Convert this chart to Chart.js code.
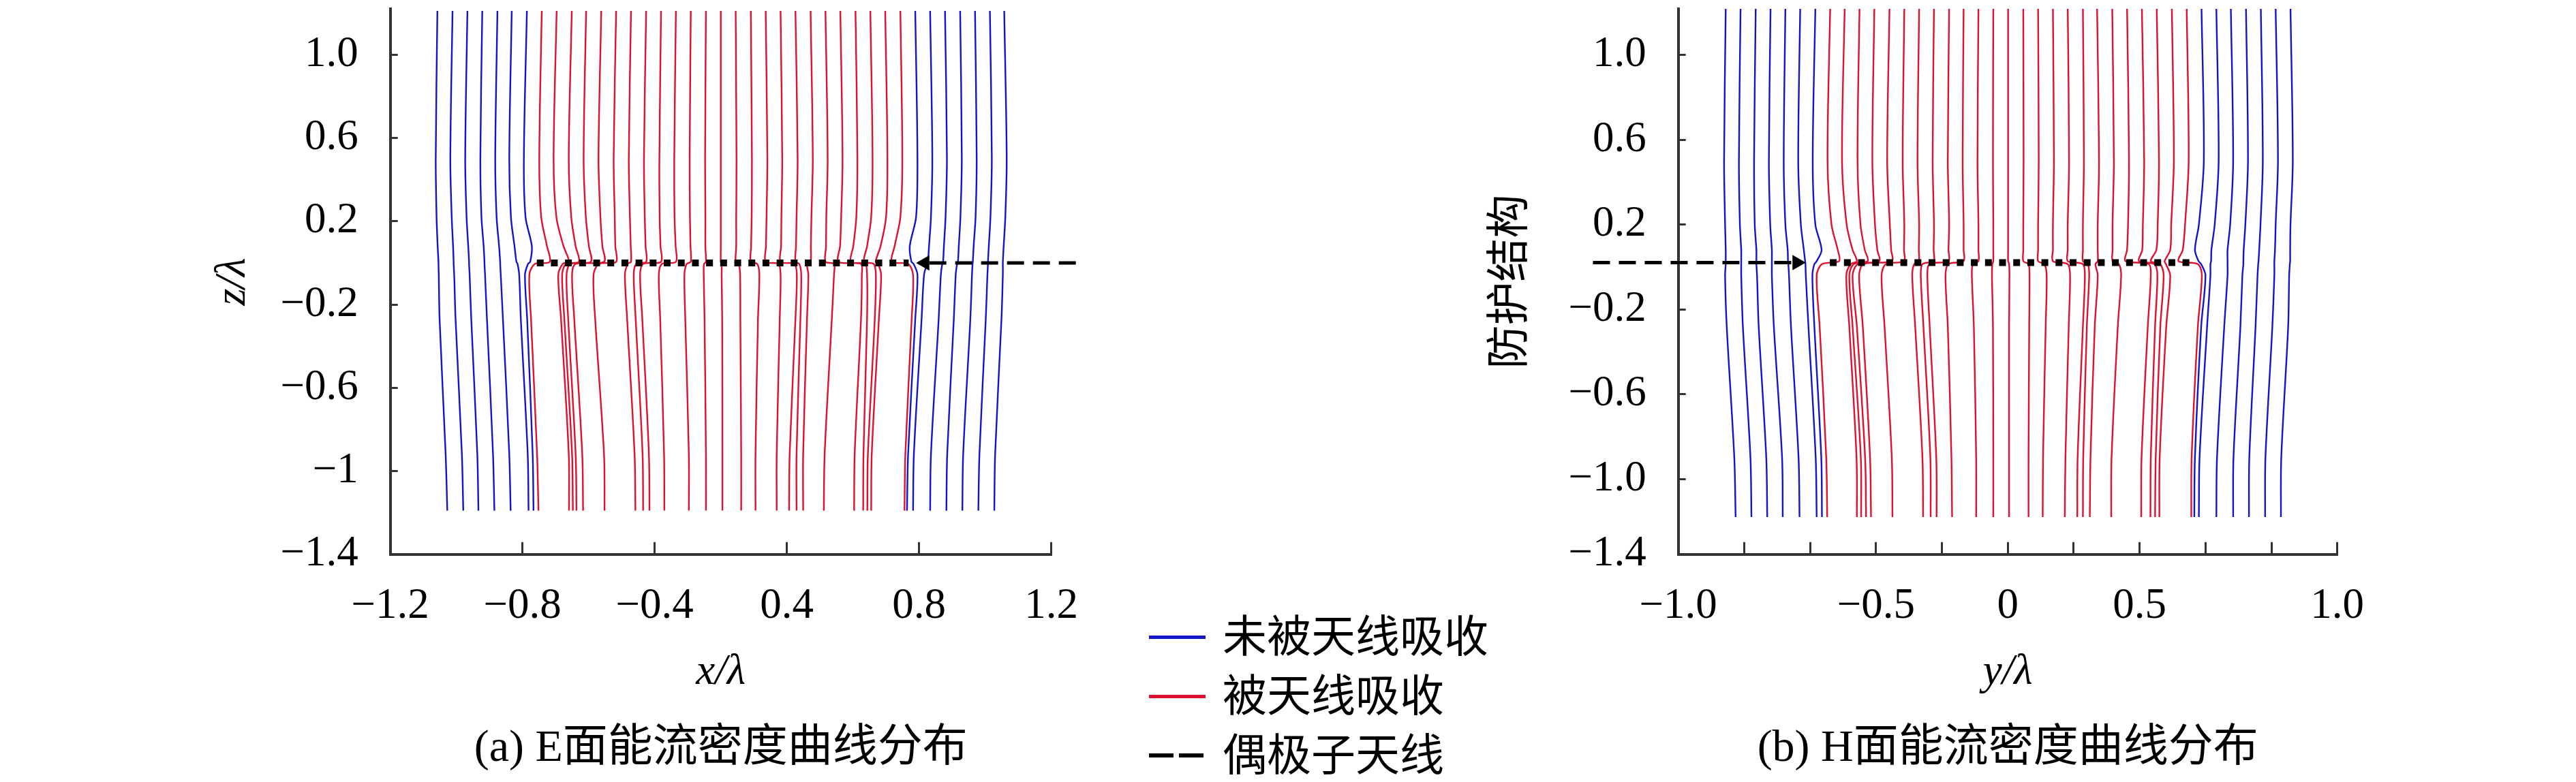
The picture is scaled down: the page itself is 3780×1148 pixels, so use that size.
<!DOCTYPE html>
<html>
<head>
<meta charset="utf-8">
<script src="https://cdn.jsdelivr.net/npm/chart.js@4.4.1/dist/chart.umd.min.js"></script>
<style>
  body { margin: 0; background: #fff; }
  #wrap { position: relative; width: 3780px; height: 1148px; overflow: hidden; }
  canvas { position: absolute; top: 0; }
  .row { position: absolute; left: 1686px; height: 80px; display: flex; align-items: center;
         font-family: "Noto Sans CJK SC", sans-serif; font-size: 65px; line-height: 1; color: #000; }
  .swatch { width: 83px; height: 5px; margin-right: 25px; position: relative; top: 6px; }
</style>
</head>
<body>
<div id="wrap">
  <canvas id="chartE" width="1890" height="1148" style="left:0"></canvas>
  <canvas id="chartH" width="1890" height="1148" style="left:1890px"></canvas>
  <div class="row" style="top:889px"><div class="swatch" style="background:#1414c8"></div>未被天线吸收</div>
  <div class="row" style="top:976px"><div class="swatch" style="background:#e0102f"></div>被天线吸收</div>
  <div class="row" style="top:1063px">
    <svg width="83" height="8" style="margin-right:25px;position:relative;top:6px"><line x1="0" y1="4" x2="83" y2="4" stroke="#000" stroke-width="6" stroke-dasharray="36 8"/></svg>偶极子天线
  </div>
</div>
<script>
const BLUE = "#1414c8";
const RED = "#e0102f";
const SERIF = "'Liberation Serif', 'Noto Sans CJK SC', serif";

// (a) E plane: z levels at which every streamline x/λ was read
const eZ = [1.21, 0.5, 0.22, 0.08, 0.005, -0.005, -0.056, -0.27, -0.92, -1.19];
const eLines = [
  [-1.029, -1.035, -1.032, -1.028, -1.025, -1.025, -1.024, -1.021, -0.999, -0.993],
  [-0.974, -0.982, -0.977, -0.972, -0.970, -0.970, -0.968, -0.963, -0.940, -0.935],
  [-0.920, -0.928, -0.923, -0.917, -0.914, -0.914, -0.912, -0.906, -0.884, -0.880],
  [-0.866, -0.873, -0.869, -0.861, -0.858, -0.858, -0.856, -0.849, -0.827, -0.822],
  [-0.811, -0.819, -0.814, -0.805, -0.801, -0.801, -0.799, -0.791, -0.768, -0.763],
  [-0.759, -0.768, -0.762, -0.749, -0.742, -0.738, -0.732, -0.726, -0.701, -0.698],
  [-0.704, -0.715, -0.709, -0.686, -0.692, -0.700, -0.711, -0.703, -0.683, -0.680],
  [-0.650, -0.659, -0.652, -0.631, -0.621, -0.675, -0.695, -0.689, -0.667, -0.662],
  [-0.596, -0.607, -0.597, -0.571, -0.551, -0.574, -0.590, -0.580, -0.552, -0.551],
  [-0.541, -0.552, -0.543, -0.527, -0.515, -0.562, -0.576, -0.568, -0.540, -0.537],
  [-0.489, -0.498, -0.490, -0.479, -0.472, -0.546, -0.560, -0.554, -0.527, -0.524],
  [-0.434, -0.444, -0.437, -0.430, -0.424, -0.527, -0.540, -0.532, -0.503, -0.500],
  [-0.380, -0.389, -0.385, -0.383, -0.380, -0.442, -0.462, -0.456, -0.424, -0.422],
  [-0.326, -0.334, -0.330, -0.327, -0.326, -0.338, -0.348, -0.340, -0.313, -0.310],
  [-0.271, -0.279, -0.276, -0.273, -0.271, -0.307, -0.316, -0.309, -0.284, -0.282],
  [-0.217, -0.223, -0.222, -0.219, -0.217, -0.282, -0.293, -0.285, -0.261, -0.259],
  [-0.163, -0.169, -0.168, -0.164, -0.163, -0.214, -0.225, -0.220, -0.206, -0.205],
  [-0.109, -0.113, -0.112, -0.110, -0.109, -0.124, -0.132, -0.129, -0.116, -0.116],
  [-0.054, -0.057, -0.056, -0.056, -0.054, -0.061, -0.062, -0.059, -0.054, -0.054],
  [0.000, 0.000, 0.000, 0.000, 0.000, 0.003, 0.003, 0.005, 0.006, 0.006],
  [0.054, 0.057, 0.056, 0.056, 0.054, 0.065, 0.070, 0.071, 0.074, 0.074],
  [0.109, 0.113, 0.112, 0.110, 0.109, 0.132, 0.140, 0.135, 0.126, 0.126],
  [0.163, 0.169, 0.166, 0.164, 0.163, 0.209, 0.217, 0.214, 0.203, 0.203],
  [0.217, 0.223, 0.220, 0.219, 0.217, 0.267, 0.276, 0.271, 0.250, 0.248],
  [0.271, 0.279, 0.275, 0.273, 0.271, 0.285, 0.292, 0.289, 0.275, 0.275],
  [0.326, 0.334, 0.329, 0.327, 0.326, 0.313, 0.318, 0.313, 0.299, 0.299],
  [0.380, 0.388, 0.383, 0.382, 0.380, 0.411, 0.411, 0.403, 0.377, 0.374],
  [0.434, 0.442, 0.437, 0.433, 0.427, 0.509, 0.512, 0.509, 0.486, 0.484],
  [0.489, 0.496, 0.492, 0.481, 0.472, 0.524, 0.531, 0.531, 0.518, 0.517],
  [0.543, 0.551, 0.546, 0.531, 0.520, 0.555, 0.563, 0.559, 0.534, 0.532],
  [0.597, 0.605, 0.600, 0.580, 0.562, 0.571, 0.582, 0.574, 0.548, 0.546],
  [0.652, 0.659, 0.652, 0.631, 0.621, 0.680, 0.698, 0.693, 0.670, 0.667],
  [0.706, 0.714, 0.709, 0.686, 0.692, 0.700, 0.714, 0.706, 0.680, 0.676],
  [0.760, 0.768, 0.763, 0.756, 0.752, 0.749, 0.738, 0.729, 0.701, 0.698],
  [0.814, 0.821, 0.816, 0.810, 0.807, 0.804, 0.799, 0.791, 0.763, 0.760],
  [0.869, 0.875, 0.870, 0.864, 0.861, 0.858, 0.853, 0.846, 0.822, 0.819],
  [0.923, 0.929, 0.925, 0.918, 0.915, 0.914, 0.912, 0.906, 0.880, 0.877],
  [0.977, 0.984, 0.979, 0.973, 0.970, 0.970, 0.968, 0.962, 0.939, 0.935],
  [1.029, 1.038, 1.033, 1.027, 1.024, 1.024, 1.024, 1.019, 0.996, 0.993]
];
const eAbsorbed = [0,0,0,0,0,0,0, 1,1,1,1,1,1,1,1,1,1,1,1,1,1,1,1,1,1,1,1,1,1,1,1,1, 0,0,0,0,0,0,0];
const eDipoleX = [-0.668, 0.682];
const eDipoleZ = [0, 0];
const eFeedX = [1.289, 0.741];
const eFeedZ = [0, 0];
const eXTickPos = [-1.2, -0.72, -0.24, 0.24, 0.72, 1.2];
const eXTickText = ["\u22121.2", "\u22120.8", "\u22120.4", "0.4", "0.8", "1.2"];
const eYTickPos = [-1.4, -1.0, -0.6, -0.2, 0.2, 0.6, 1.0];
const eYTickText = ["\u22121.4", "\u22121", "\u22120.6", "\u22120.2", "0.2", "0.6", "1.0"];

// (b) H plane
const hZ = [1.22, 0.5, 0.2, 0.08, 0.027, 0.013, -0.04, -0.28, -0.9, -1.18];
const hLines = [
  [-0.856, -0.861, -0.858, -0.856, -0.856, -0.856, -0.858, -0.853, -0.830, -0.826],
  [-0.811, -0.816, -0.813, -0.809, -0.809, -0.809, -0.809, -0.804, -0.781, -0.778],
  [-0.765, -0.770, -0.768, -0.763, -0.763, -0.763, -0.761, -0.756, -0.733, -0.730],
  [-0.720, -0.725, -0.721, -0.716, -0.716, -0.716, -0.716, -0.710, -0.685, -0.683],
  [-0.675, -0.680, -0.675, -0.668, -0.667, -0.666, -0.664, -0.658, -0.635, -0.632],
  [-0.630, -0.636, -0.628, -0.619, -0.615, -0.614, -0.613, -0.605, -0.583, -0.580],
  [-0.584, -0.592, -0.584, -0.565, -0.580, -0.587, -0.593, -0.587, -0.566, -0.564],
  [-0.539, -0.547, -0.535, -0.516, -0.512, -0.564, -0.580, -0.571, -0.551, -0.548],
  [-0.495, -0.503, -0.489, -0.471, -0.458, -0.477, -0.490, -0.481, -0.459, -0.458],
  [-0.450, -0.456, -0.447, -0.434, -0.425, -0.468, -0.481, -0.471, -0.446, -0.445],
  [-0.405, -0.411, -0.403, -0.396, -0.390, -0.455, -0.471, -0.458, -0.433, -0.430],
  [-0.359, -0.366, -0.358, -0.354, -0.352, -0.438, -0.451, -0.440, -0.418, -0.415],
  [-0.314, -0.319, -0.314, -0.315, -0.315, -0.370, -0.383, -0.374, -0.352, -0.350],
  [-0.269, -0.274, -0.269, -0.270, -0.270, -0.284, -0.290, -0.281, -0.259, -0.257],
  [-0.224, -0.228, -0.224, -0.225, -0.225, -0.259, -0.264, -0.256, -0.235, -0.234],
  [-0.178, -0.182, -0.178, -0.180, -0.180, -0.238, -0.244, -0.237, -0.217, -0.216],
  [-0.134, -0.137, -0.134, -0.134, -0.134, -0.180, -0.189, -0.182, -0.171, -0.169],
  [-0.089, -0.092, -0.089, -0.089, -0.089, -0.106, -0.109, -0.103, -0.096, -0.096],
  [-0.044, -0.045, -0.044, -0.044, -0.044, -0.047, -0.048, -0.045, -0.044, -0.044],
  [0.001, 0.001, 0.001, 0.001, 0.001, 0.004, 0.005, 0.004, 0.004, 0.004],
  [0.047, 0.048, 0.047, 0.047, 0.047, 0.063, 0.066, 0.065, 0.063, 0.063],
  [0.092, 0.094, 0.092, 0.092, 0.092, 0.111, 0.118, 0.115, 0.107, 0.106],
  [0.137, 0.140, 0.137, 0.137, 0.137, 0.182, 0.189, 0.185, 0.175, 0.173],
  [0.182, 0.186, 0.182, 0.182, 0.182, 0.228, 0.234, 0.228, 0.212, 0.211],
  [0.228, 0.231, 0.228, 0.228, 0.228, 0.243, 0.247, 0.240, 0.229, 0.228],
  [0.271, 0.277, 0.273, 0.273, 0.273, 0.266, 0.273, 0.264, 0.251, 0.249],
  [0.317, 0.322, 0.318, 0.318, 0.318, 0.337, 0.344, 0.334, 0.315, 0.314],
  [0.362, 0.368, 0.365, 0.362, 0.357, 0.428, 0.434, 0.425, 0.406, 0.405],
  [0.407, 0.414, 0.410, 0.408, 0.398, 0.445, 0.454, 0.447, 0.434, 0.433],
  [0.452, 0.459, 0.455, 0.451, 0.434, 0.463, 0.473, 0.463, 0.449, 0.447],
  [0.498, 0.504, 0.496, 0.493, 0.476, 0.480, 0.493, 0.481, 0.461, 0.460],
  [0.543, 0.549, 0.538, 0.531, 0.518, 0.577, 0.589, 0.577, 0.558, 0.557],
  [0.588, 0.595, 0.580, 0.568, 0.579, 0.587, 0.600, 0.587, 0.568, 0.566],
  [0.633, 0.640, 0.628, 0.618, 0.617, 0.615, 0.615, 0.605, 0.582, 0.580],
  [0.677, 0.684, 0.675, 0.667, 0.667, 0.667, 0.667, 0.657, 0.635, 0.633],
  [0.723, 0.729, 0.721, 0.716, 0.715, 0.715, 0.712, 0.706, 0.685, 0.684],
  [0.768, 0.774, 0.767, 0.763, 0.761, 0.760, 0.758, 0.752, 0.733, 0.732],
  [0.813, 0.820, 0.813, 0.811, 0.809, 0.809, 0.809, 0.803, 0.782, 0.781],
  [0.858, 0.865, 0.858, 0.857, 0.857, 0.856, 0.854, 0.851, 0.830, 0.829]
];
const hAbsorbed = eAbsorbed;
const hDipoleX = [-0.540, 0.562];
const hDipoleZ = [0.02, 0.02];
const hFeedX = [-1.259, -0.640];
const hFeedZ = [0.02, 0.02];
const hXTickPos = [-1.0, -0.8, -0.6, -0.4, -0.2, 0, 0.2, 0.4, 0.6, 0.8, 1.0];
const hXTickText = ["\u22121.0", "", "", "\u22120.5", "", "0", "", "0.5", "", "", "1.0"];
const hYTickPos = [-1.356, -1.0, -0.6, -0.2, 0.2, 0.6, 1.0];
const hYTickText = ["\u22121.4", "\u22121.0", "\u22120.6", "\u22120.2", "0.2", "0.6", "1.0"];

const makeChart = (id, p) => {
  const datasets = [];
  datasets.push({
    data: p.dipoleX.map((x, i) => ({ x, y: p.dipoleZ[i] })),
    borderColor: "#000", borderWidth: 10, borderDash: [10, 10.7], borderCapStyle: "butt",
    pointRadius: 0, tension: 0, clip: false, order: 0
  });
  datasets.push({
    data: p.feedX.map((x, i) => ({ x, y: p.feedZ[i] })),
    borderColor: "#000", borderWidth: 5, borderDash: [25, 13],
    pointRadius: [0, 13], pointStyle: "triangle", pointRotation: [0, p.arrowRot],
    pointBackgroundColor: "#000", pointBorderWidth: 0, tension: 0, clip: false, order: 0
  });
  p.lines.forEach((line, i) => {
    datasets.push({
      data: line.map((x, k) => ({ x, y: p.z[k] })),
      borderColor: p.absorbed[i] ? RED : BLUE,
      borderWidth: 2.4, pointRadius: 0, tension: 0.3, fill: false, order: 1
    });
  });

  const tickFont = { family: SERIF, size: 63 };
  return new Chart(document.getElementById(id), {
    type: "line",
    data: { datasets },
    options: {
      responsive: false,
      animation: false,
      devicePixelRatio: 1,
      layout: { padding: { left: 0, right: p.padRight, top: 9, bottom: 0 } },
      scales: {
        x: {
          type: "linear", position: "bottom", min: p.xMin, max: p.xMax,
          afterFit: (s) => { s.height = 220; s.paddingLeft = 0; s.paddingRight = 0; },
          afterBuildTicks: (s) => { s.ticks = p.xTickPos.map((v) => ({ value: v })); },
          ticks: { callback: (v, i) => p.xTickText[i], font: tickFont, color: "#000",
                   padding: 57, maxRotation: 0, autoSkip: false },
          grid: { drawOnChartArea: false, color: "#333", lineWidth: 3, tickLength: -18 },
          border: { color: "#333", width: 4 },
          title: { display: true, text: p.xTitle, color: "#000",
                   font: { family: SERIF, size: 63, style: "italic" }, padding: { top: 0, bottom: 9 } }
        },
        y: {
          type: "linear", position: "left", min: p.yMin, max: p.yMax,
          afterFit: (s) => { s.width = 572.7; s.paddingTop = 0; s.paddingBottom = 0; },
          afterBuildTicks: (s) => { s.ticks = p.yTickPos.map((v) => ({ value: v })); },
          ticks: { callback: (v, i) => p.yTickText[i], font: tickFont, color: "#000",
                   padding: 58, autoSkip: false },
          grid: { drawOnChartArea: false, color: "#333", lineWidth: 3, tickLength: -11 },
          border: { color: "#333", width: 4 },
          title: { display: true, text: p.yTitle, color: "#000",
                   font: { family: SERIF, size: 64, style: p.yStyle }, padding: { top: p.yTitlePad, bottom: 0 } }
        }
      },
      plugins: {
        legend: { display: false },
        tooltip: { enabled: false },
        title: {
          display: true, text: p.caption, position: "bottom", fullSize: false,
          color: "#000", font: { family: SERIF, size: 66, weight: "normal" },
          padding: { top: 26, bottom: 9 }
        }
      }
    }
  });
};

makeChart("chartE", {
  z: eZ, lines: eLines, absorbed: eAbsorbed,
  dipoleX: eDipoleX, dipoleZ: eDipoleZ, feedX: eFeedX, feedZ: eFeedZ, arrowRot: 270,
  xMin: -1.2, xMax: 1.2, yMin: -1.4, yMax: 1.22,
  xTickPos: eXTickPos, xTickText: eXTickText, yTickPos: eYTickPos, yTickText: eYTickText,
  xTitle: "x/\u03bb", yTitle: "z/\u03bb", yStyle: "italic", yTitlePad: 304,
  caption: "(a) E面能流密度曲线分布", padRight: 347.3
});

makeChart("chartH", {
  z: hZ, lines: hLines, absorbed: hAbsorbed,
  dipoleX: hDipoleX, dipoleZ: hDipoleZ, feedX: hFeedX, feedZ: hFeedZ, arrowRot: 90,
  xMin: -1.0, xMax: 1.0, yMin: -1.356, yMax: 1.217,
  xTickPos: hXTickPos, xTickText: hXTickText, yTickPos: hYTickPos, yTickText: hYTickText,
  xTitle: "y/\u03bb", yTitle: "防护结构", yStyle: "normal", yTitlePad: 290,
  caption: "(b) H面能流密度曲线分布", padRight: 350.3
});
</script>
</body>
</html>
